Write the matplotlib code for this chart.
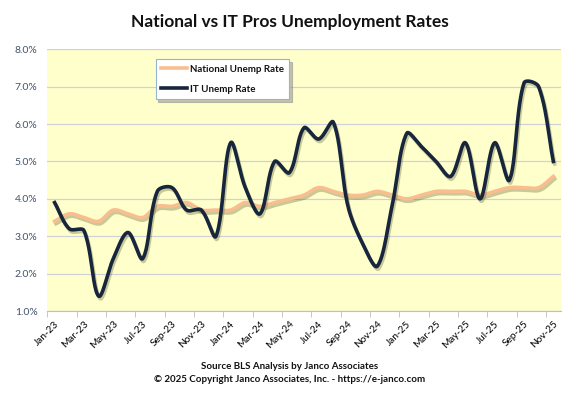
import numpy as np
import matplotlib
matplotlib.use("Agg")
import matplotlib.pyplot as plt
import matplotlib.patheffects as pe
from matplotlib.ticker import FixedLocator, FuncFormatter

plt.rcParams['font.family'] = ['Lato', 'DejaVu Sans']

# Data (monthly, Jan-23 .. Nov-25)
months = ['Jan-23', 'Feb-23', 'Mar-23', 'Apr-23', 'May-23', 'Jun-23', 'Jul-23', 'Aug-23',
          'Sep-23', 'Oct-23', 'Nov-23', 'Dec-23', 'Jan-24', 'Feb-24', 'Mar-24', 'Apr-24',
          'May-24', 'Jun-24', 'Jul-24', 'Aug-24', 'Sep-24', 'Oct-24', 'Nov-24', 'Dec-24',
          'Jan-25', 'Feb-25', 'Mar-25', 'Apr-25', 'May-25', 'Jun-25', 'Jul-25', 'Aug-25',
          'Sep-25', 'Oct-25', 'Nov-25']
national = [3.4, 3.6, 3.5, 3.4, 3.7, 3.6, 3.5, 3.8, 3.8, 3.9, 3.7, 3.7,
            3.7, 3.9, 3.8, 3.9, 4.0, 4.1, 4.3, 4.2, 4.1, 4.1, 4.2, 4.1,
            4.0, 4.1, 4.2, 4.2, 4.2, 4.1, 4.2, 4.3, 4.3, 4.3, 4.6]
it_pros = [3.9, 3.2, 3.15, 1.4, 2.4, 3.1, 2.4, 4.2, 4.3, 3.7, 3.7, 3.0,
           5.5, 4.3, 3.6, 5.0, 4.7, 5.9, 5.6, 6.05, 3.8, 2.8, 2.2, 3.8,
           5.75, 5.4, 5.0, 4.6, 5.5, 4.0, 5.5, 4.5, 7.1, 7.0, 5.0]


def smooth(ax, y, n=24):
    # Excel-like smoothed line: Bezier segments, tangents split by chord length (in pixels)
    pts = ax.transData.transform(np.column_stack([np.arange(len(y)), y]))
    padded = np.vstack([pts[0], pts, pts[-1]])
    d = np.linalg.norm(np.diff(padded, axis=0), axis=1)  # d[i] = |padded[i+1]-padded[i]|
    t = np.linspace(0, 1, n, endpoint=False)[:, None]
    out = []
    for i in range(len(pts) - 1):
        p0, p3 = padded[i + 1], padded[i + 2]
        t0 = padded[i + 2] - padded[i]
        t1 = padded[i + 3] - padded[i + 1]
        c1 = p0 + t0 / 3 * d[i + 1] / max(d[i] + d[i + 1], 1e-9)
        c2 = p3 - t1 / 3 * d[i + 1] / max(d[i + 1] + d[i + 2], 1e-9)
        seg = ((1 - t) ** 3) * p0 + 3 * ((1 - t) ** 2) * t * c1 + 3 * (1 - t) * t ** 2 * c2 + t ** 3 * p3
        out.append(seg)
    out.append(pts[-1][None, :])
    out = ax.transData.inverted().transform(np.vstack(out))
    return out[:, 0], out[:, 1]


fig = plt.figure(figsize=(5.74, 3.97), dpi=100)
ax = fig.add_axes([0.0824, 0.2166, 0.8944, 0.6592])
ax.set_facecolor('#FFFFCC')
ax.set_xlim(-0.5, len(months) - 0.5)
ax.set_ylim(1.0, 8.0)

shadow = [pe.SimpleLineShadow(offset=(1.0, -1.8), shadow_color='#4d4d20', alpha=0.3),
          pe.Normal()]

xs, ys = smooth(ax, national)
ax.plot(xs, ys, color='#F9BE8F', lw=2.6, path_effects=shadow,
        label='National Unemp Rate', zorder=3)
xs, ys = smooth(ax, it_pros)
ax.plot(xs, ys, color='#17263C', lw=2.6, path_effects=shadow,
        label='IT Unemp Rate', zorder=4)

ax.set_yticks(np.arange(1.0, 8.01, 1.0))
ax.yaxis.set_major_formatter(FuncFormatter(lambda v, p: f'{v:.1f}%'))
ax.tick_params(axis='y', length=0, pad=7, labelsize=7.5, labelcolor='#44546A')
ax.grid(axis='y', color='#D0D0D8', lw=0.9)
ax.set_axisbelow(True)

ax.set_xticks(np.arange(0, len(months), 2))
ax.set_xticklabels(months[::2], rotation=45, ha='right', rotation_mode='anchor')
ax.xaxis.set_minor_locator(FixedLocator(np.arange(-0.5, len(months), 2)))
ax.tick_params(axis='x', which='major', length=0, pad=6, labelsize=7.2, labelcolor='#000000')
ax.tick_params(axis='x', which='minor', length=4, color='#BFBFBF', direction='out')

for s in ['top', 'right', 'left']:
    ax.spines[s].set_visible(False)
ax.spines['bottom'].set_color('#BFBFBF')

leg = ax.legend(loc='upper left', bbox_to_anchor=(0.211, 0.963), borderaxespad=0, fontsize=7,
                frameon=True, fancybox=False, shadow={'color': '#888888', 'alpha': 0.5},
                handlelength=2.6, labelspacing=1.1, borderpad=0.6, handletextpad=0.3)
leg.get_frame().set_edgecolor('#95B3D7')
leg.get_frame().set_linewidth(0.8)
for line in leg.get_lines():
    line.set_path_effects([])
for txt in leg.get_texts():
    txt.set_color('#111111')
    txt.set_fontweight('bold')

fig.text(0.505, 0.944, 'National vs IT Pros Unemployment Rates', ha='center', va='center',
         fontsize=12.5, fontweight='bold', color='#111111')
fig.text(0.505, 0.078, 'Source BLS Analysis by Janco Associates', ha='center', va='center',
         fontsize=7, fontweight='bold', color='#111111')
fig.text(0.505, 0.044, '\u00a9 2025 Copyright Janco Associates, Inc. - https://e-janco.com',
         ha='center', va='center', fontsize=7, fontweight='bold', color='#111111')

fig.savefig('out.png', dpi=100, facecolor='white')
